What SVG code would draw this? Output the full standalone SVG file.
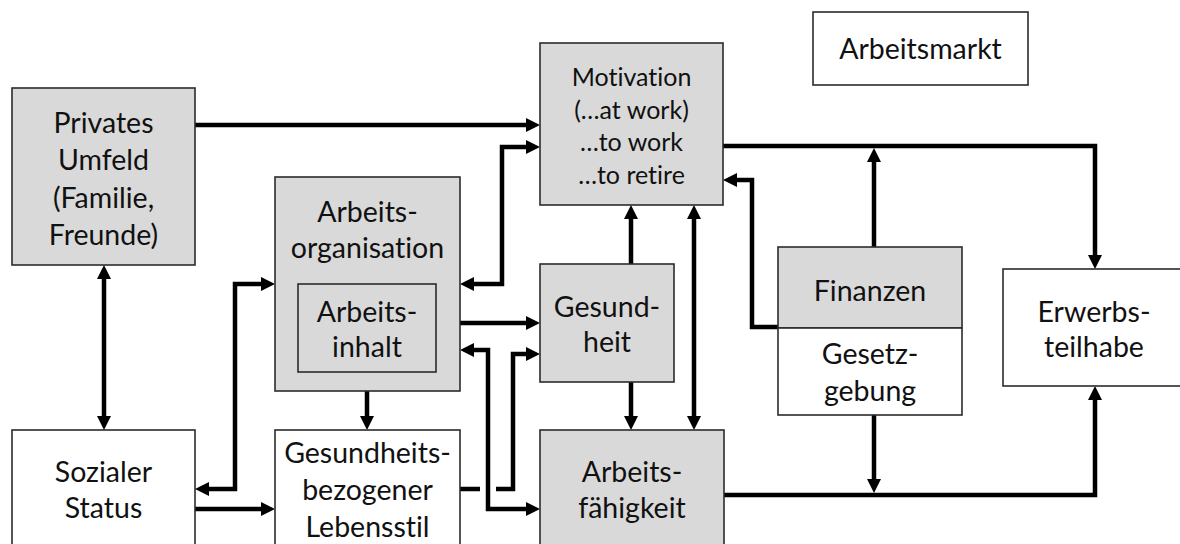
<svg xmlns="http://www.w3.org/2000/svg" width="1180" height="544" viewBox="0 0 1180 544">
<defs>
<marker id="ah" viewBox="0 0 14 14" refX="4" refY="7" markerWidth="14" markerHeight="14" markerUnits="userSpaceOnUse" orient="auto-start-reverse">
<path d="M0,0 L14,7 L0,14 z" fill="#000"/>
</marker>
<style>
.box{stroke:#2b2b2b;stroke-width:1.6}
.g{fill:#d9d9d9}
.w{fill:#fff}
text{font-family:"Lato","Liberation Sans",sans-serif;font-size:28.5px;fill:#111;text-anchor:middle;font-variant-ligatures:none;font-feature-settings:"liga" 0}
.sm{font-size:25px}
.c{fill:none;stroke:#000;stroke-width:4.5;stroke-linejoin:miter}
.e{marker-end:url(#ah)}
.b{marker-start:url(#ah);marker-end:url(#ah)}
</style>
</defs>
<rect width="1180" height="544" fill="#fff"/>
<g id="connectors">
<path class="c e" d="M195,125 H530"/>
<path class="c b" d="M470,284 H502 V147 H530"/>
<path class="c e" d="M723,146 H1095 V259"/>
<path class="c e" d="M874,247 V158"/>
<path class="c e" d="M778,327 H752 V180 H733"/>
<path class="c e" d="M631,264 V215"/>
<path class="c b" d="M694,215 V420"/>
<path class="c e" d="M631,382 V420"/>
<path class="c e" d="M460,323 H530"/>
<path class="c b" d="M470,350 H488 V509 H530"/>
<path class="c" d="M460,489 H480"/>
<path class="c e" d="M496,489 H513 V354 H530"/>
<path class="c e" d="M367,391 V420"/>
<path class="c b" d="M104,275 V420"/>
<path class="c b" d="M205,489 H235 V284 H265"/>
<path class="c e" d="M195,509 H265"/>
<path class="c e" d="M724,495 H1095 V396"/>
<path class="c e" d="M874,415 V483"/>
</g>
<g id="privates">
<rect class="box g" x="12" y="88" width="183" height="177"/>
<text x="103.5" y="133">Privates</text>
<text x="103.5" y="170">Umfeld</text>
<text x="103.5" y="208">(Familie,</text>
<text x="103.5" y="245">Freunde)</text>
</g>
<g id="motivation">
<rect class="box g" x="540" y="43" width="183" height="162"/>
<text class="sm" x="631.5" y="86">Motivation</text>
<text class="sm" x="631.5" y="119">(…at work)</text>
<text class="sm" x="631.5" y="151">…to work</text>
<text class="sm" x="631.5" y="184">…to retire</text>
</g>
<g id="arbeitsmarkt">
<rect class="box w" x="813" y="12" width="215" height="73"/>
<text x="920.5" y="59">Arbeitsmarkt</text>
</g>
<g id="arbeitsorganisation">
<rect class="box g" x="275" y="177" width="185" height="214"/>
<text x="367.5" y="222">Arbeits-</text>
<text x="367.5" y="258">organisation</text>
</g>
<g id="arbeitsinhalt">
<rect class="box g" x="298" y="284" width="138" height="88"/>
<text x="367" y="322">Arbeits-</text>
<text x="367" y="357">inhalt</text>
</g>
<g id="gesundheit">
<rect class="box g" x="540" y="264" width="134" height="118"/>
<text x="607" y="317">Gesund-</text>
<text x="607" y="352">heit</text>
</g>
<g id="finanzen">
<rect class="box g" x="778" y="247" width="184" height="81"/>
<rect class="box w" x="778" y="328" width="184" height="87"/>
<text x="870" y="301">Finanzen</text>
<text x="870" y="364">Gesetz-</text>
<text x="870" y="401">gebung</text>
</g>
<g id="erwerbsteilhabe">
<rect class="box w" x="1003" y="269" width="184" height="117"/>
<text x="1094" y="322">Erwerbs-</text>
<text x="1094" y="357">teilhabe</text>
</g>
<g id="sozialer-status">
<rect class="box w" x="12" y="430" width="183" height="122"/>
<text x="103.5" y="482">Sozialer</text>
<text x="103.5" y="518">Status</text>
</g>
<g id="lebensstil">
<rect class="box w" x="275" y="430" width="185" height="122"/>
<text x="367.5" y="463">Gesundheits-</text>
<text x="367.5" y="500">bezogener</text>
<text x="367.5" y="537">Lebensstil</text>
</g>
<g id="arbeitsfaehigkeit">
<rect class="box g" x="540" y="430" width="184" height="122"/>
<text x="632" y="482">Arbeits-</text>
<text x="632" y="518">fähigkeit</text>
</g>
</svg>
